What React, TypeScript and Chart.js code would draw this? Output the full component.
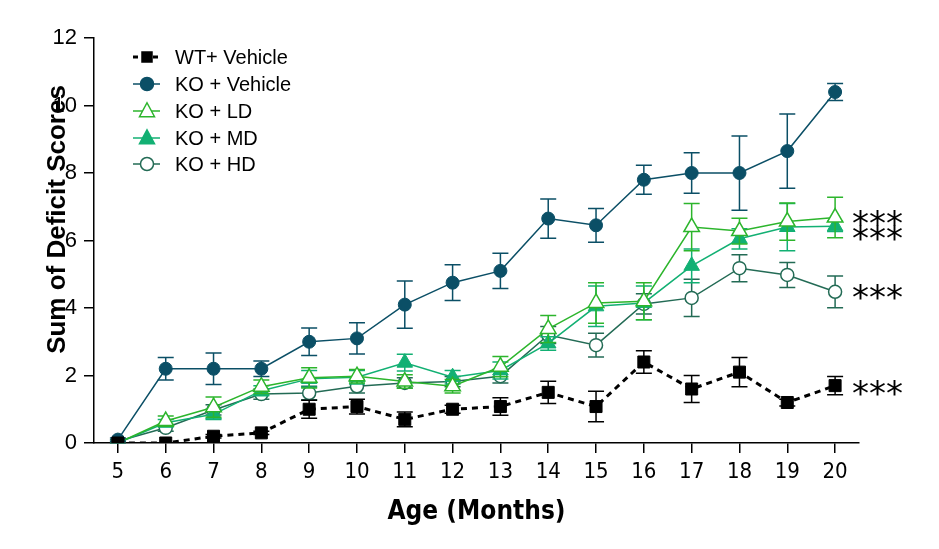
import React, { useEffect, useRef } from 'react';
import { Chart, registerables } from 'chart.js';

Chart.register(...registerables);

const months = [5, 6, 7, 8, 9, 10, 11, 12, 13, 14, 15, 16, 17, 18, 19, 20];

const wtVehicle = [0, 0, 0.2, 0.3, 1.0, 1.08, 0.7, 1.0, 1.08, 1.5, 1.08, 2.4, 1.6, 2.1, 1.2, 1.7];
const wtVehicleErr = [0, 0, 0.05, 0.05, 0.27, 0.22, 0.22, 0.12, 0.26, 0.33, 0.45, 0.33, 0.4, 0.43, 0.1, 0.27];

const koVehicle = [0.1, 2.2, 2.2, 2.2, 3.0, 3.1, 4.1, 4.75, 5.1, 6.65, 6.45, 7.8, 8.0, 8.0, 8.65, 10.4];
const koVehicleErr = [0.05, 0.33, 0.47, 0.23, 0.41, 0.46, 0.7, 0.53, 0.52, 0.58, 0.5, 0.43, 0.6, 1.1, 1.1, 0.25];

const koLD = [0, 0.65, 1.06, 1.67, 1.93, 1.98, 1.82, 1.68, 2.26, 3.38, 4.15, 4.2, 6.4, 6.28, 6.56, 6.68];
const koLDErr = [0, 0.15, 0.3, 0.2, 0.3, 0.2, 0.2, 0.2, 0.3, 0.4, 0.6, 0.55, 0.7, 0.38, 0.55, 0.6];

const koMD = [0, 0.6, 0.85, 1.55, 1.9, 1.95, 2.38, 1.95, 2.15, 2.95, 4.05, 4.15, 5.25, 6.05, 6.4, 6.42];
const koMDErr = [0, 0.1, 0.15, 0.15, 0.25, 0.2, 0.25, 0.2, 0.25, 0.2, 0.6, 0.5, 0.5, 0.3, 0.7, 0.15];

const koHD = [0.05, 0.45, 0.98, 1.45, 1.48, 1.68, 1.78, 1.82, 1.98, 3.2, 2.9, 4.12, 4.3, 5.18, 4.98, 4.48];
const koHDErr = [0.05, 0.1, 0.15, 0.15, 0.2, 0.2, 0.15, 0.15, 0.2, 0.25, 0.35, 0.3, 0.55, 0.4, 0.37, 0.47];

const seriesNames = ['WT+ Vehicle', 'KO + Vehicle', 'KO + LD', 'KO + MD', 'KO + HD'];
const seriesColors = ['#000000', '#0b4f66', '#2cb52c', '#12b073', '#236b55'];

const yTicks = [0, 2, 4, 6, 8, 10, 12];

// significance markers: label and the value level they sit at
const sigLabels = ['***', '***', '***', '***'];
const sigLevels = [6.75, 6.3, 4.55, 1.72];

const SANS = '"Liberation Sans", Arial, Helvetica, sans-serif';
const NARROW = '"Liberation Sans Narrow", "Arial Narrow", "DejaVu Sans Condensed", "Liberation Sans", sans-serif';

const errorArrays = [wtVehicleErr, koVehicleErr, koLDErr, koMDErr, koHDErr];

const errorBarPlugin = {
  id: 'errorBars',
  beforeDatasetDraw(chart: any, args: any) {
    const idx = args.index;
    const errs = errorArrays[idx];
    const ds = chart.data.datasets[idx];
    const yScale = chart.scales.y;
    const ctx = chart.ctx;
    ctx.save();
    ctx.strokeStyle = seriesColors[idx];
    ctx.lineWidth = 1.5;
    ctx.setLineDash([]);
    args.meta.data.forEach((pt: any, i: number) => {
      const e = errs[i];
      if (!e) return;
      const v = ds.data[i].y;
      const yt = yScale.getPixelForValue(v + e);
      const yb = yScale.getPixelForValue(v - e);
      const x = pt.x;
      ctx.beginPath();
      ctx.moveTo(x, yt);
      ctx.lineTo(x, yb);
      ctx.moveTo(x - 8, yt);
      ctx.lineTo(x + 8, yt);
      ctx.moveTo(x - 8, yb);
      ctx.lineTo(x + 8, yb);
      ctx.stroke();
    });
    ctx.restore();
  },
};

function drawMarker(ctx: CanvasRenderingContext2D, style: string, x: number, y: number, r: number, fill: string, stroke: string) {
  ctx.beginPath();
  if (style === 'rect') {
    ctx.rect(x - r, y - r, 2 * r, 2 * r);
  } else if (style === 'circle') {
    ctx.arc(x, y, r, 0, Math.PI * 2);
  } else {
    ctx.moveTo(x, y - r * 1.1);
    ctx.lineTo(x + r, y + r * 0.75);
    ctx.lineTo(x - r, y + r * 0.75);
    ctx.closePath();
  }
  ctx.fillStyle = fill;
  ctx.fill();
  ctx.lineWidth = 1.5;
  ctx.strokeStyle = stroke;
  ctx.stroke();
}

const annotationPlugin = {
  id: 'annotations',
  afterDraw(chart: any) {
    const ctx = chart.ctx;
    const yScale = chart.scales.y;
    const area = chart.chartArea;
    ctx.save();
    // y axis title
    ctx.translate(65, (area.top + area.bottom) / 2 - 21);
    ctx.rotate(-Math.PI / 2);
    ctx.font = 'bold 26px ' + SANS;
    ctx.fillStyle = '#000';
    ctx.textAlign = 'center';
    ctx.textBaseline = 'alphabetic';
    ctx.fillText('Sum of Deficit Scores', 0, 0);
    ctx.restore();

    // significance asterisks
    ctx.save();
    ctx.font = '34px "DejaVu Sans", sans-serif';
    ctx.fillStyle = '#000';
    ctx.textAlign = 'left';
    ctx.textBaseline = 'alphabetic';
    sigLabels.forEach((t, i) => {
      const y = yScale.getPixelForValue(sigLevels[i]);
      ctx.fillText(t, area.right - 7, y + 20);
    });
    ctx.restore();

    // legend
    const styles = ['rect', 'circle', 'triangle', 'triangle', 'circle'];
    const fills = ['#000000', '#0b4f66', '#ffffff', '#12b073', '#ffffff'];
    const rowYs = [57, 84, 111, 138, 164];
    ctx.save();
    rowYs.forEach((ry, i) => {
      ctx.beginPath();
      ctx.strokeStyle = seriesColors[i];
      if (i === 0) {
        ctx.lineWidth = 3;
        ctx.setLineDash([5, 5]);
        ctx.moveTo(133, ry);
        ctx.lineTo(161, ry);
      } else {
        ctx.lineWidth = 1.5;
        ctx.setLineDash([]);
        ctx.moveTo(133, ry);
        ctx.lineTo(160, ry);
      }
      ctx.stroke();
      ctx.setLineDash([]);
      const r = styles[i] === 'rect' ? 5 : styles[i] === 'circle' ? 6.5 : 7.5;
      drawMarker(ctx, styles[i], 147, ry, r, fills[i], seriesColors[i]);
      ctx.font = '20px ' + SANS;
      ctx.fillStyle = '#000';
      ctx.textAlign = 'left';
      ctx.textBaseline = 'middle';
      ctx.fillText(seriesNames[i], 175, ry + 1);
    });
    ctx.restore();
  },
};

const toXY = (arr: number[]) => arr.map((v, i) => ({ x: months[i], y: v }));

export default function App() {
  const canvasRef = useRef<HTMLCanvasElement | null>(null);

  useEffect(() => {
    if (!canvasRef.current) return;
    const chart = new Chart(canvasRef.current, {
      type: 'line',
      data: {
        datasets: [
          {
            label: seriesNames[0],
            data: toXY(wtVehicle),
            borderColor: seriesColors[0],
            backgroundColor: seriesColors[0],
            borderWidth: 3,
            borderDash: [6, 5],
            pointStyle: 'rect',
            pointRadius: 8.5,
            pointBackgroundColor: '#000',
            pointBorderColor: '#000',
            pointBorderWidth: 1,
            tension: 0,
            fill: false,
          },
          {
            label: seriesNames[1],
            data: toXY(koVehicle),
            borderColor: seriesColors[1],
            backgroundColor: seriesColors[1],
            borderWidth: 1.5,
            pointStyle: 'circle',
            pointRadius: 6.5,
            pointBackgroundColor: seriesColors[1],
            pointBorderColor: seriesColors[1],
            pointBorderWidth: 1,
            tension: 0,
            fill: false,
          },
          {
            label: seriesNames[2],
            data: toXY(koLD),
            borderColor: seriesColors[2],
            backgroundColor: '#ffffff',
            borderWidth: 1.5,
            pointStyle: 'triangle',
            pointRadius: 9,
            pointBackgroundColor: '#ffffff',
            pointBorderColor: seriesColors[2],
            pointBorderWidth: 1.5,
            tension: 0,
            fill: false,
          },
          {
            label: seriesNames[3],
            data: toXY(koMD),
            borderColor: seriesColors[3],
            backgroundColor: seriesColors[3],
            borderWidth: 1.5,
            pointStyle: 'triangle',
            pointRadius: 9,
            pointBackgroundColor: seriesColors[3],
            pointBorderColor: seriesColors[3],
            pointBorderWidth: 1,
            tension: 0,
            fill: false,
          },
          {
            label: seriesNames[4],
            data: toXY(koHD),
            borderColor: seriesColors[4],
            backgroundColor: '#ffffff',
            borderWidth: 1.5,
            pointStyle: 'circle',
            pointRadius: 6.5,
            pointBackgroundColor: '#ffffff',
            pointBorderColor: seriesColors[4],
            pointBorderWidth: 1.5,
            tension: 0,
            fill: false,
          },
        ],
      },
      options: {
        animation: false,
        responsive: true,
        maintainAspectRatio: false,
        devicePixelRatio: 1,
        layout: { padding: { top: 38, right: 80, left: 0, bottom: 0 } },
        plugins: {
          legend: { display: false },
          tooltip: { enabled: false },
        },
        scales: {
          x: {
            type: 'linear',
            min: 4.5,
            max: 20.5,
            afterBuildTicks: (s: any) => {
              s.ticks = months.map((v) => ({ value: v }));
            },
            afterFit: (s: any) => {
              s.height = 106;
            },
            grid: {
              display: true,
              drawOnChartArea: false,
              drawTicks: true,
              tickLength: 10,
              color: '#000',
              lineWidth: 1.5,
            },
            border: { display: true, color: '#000', width: 1.5 },
            ticks: {
              color: '#000',
              font: { family: NARROW, size: 22 },
              padding: 6,
              maxRotation: 0,
              autoSkip: false,
            },
            title: {
              display: true,
              text: 'Age (Months)',
              color: '#000',
              font: { family: NARROW, size: 26, weight: 'bold' },
              padding: { top: 0, bottom: 21 },
            },
          },
          y: {
            type: 'linear',
            min: 0,
            max: 12,
            afterBuildTicks: (s: any) => {
              s.ticks = yTicks.map((v) => ({ value: v }));
            },
            afterFit: (s: any) => {
              s.width = 94;
            },
            grid: {
              display: true,
              drawOnChartArea: false,
              drawTicks: true,
              tickLength: 10,
              color: '#000',
              lineWidth: 1.5,
            },
            border: { display: true, color: '#000', width: 1.5 },
            ticks: {
              color: '#000',
              font: { family: SANS, size: 22 },
              padding: 7,
            },
          },
        },
      } as any,
      plugins: [errorBarPlugin, annotationPlugin],
    });
    return () => chart.destroy();
  }, []);

  return (
    <div style={{ position: 'absolute', left: 0, top: 0, width: 939, height: 549, background: '#fff' }}>
      <canvas ref={canvasRef} />
    </div>
  );
}
